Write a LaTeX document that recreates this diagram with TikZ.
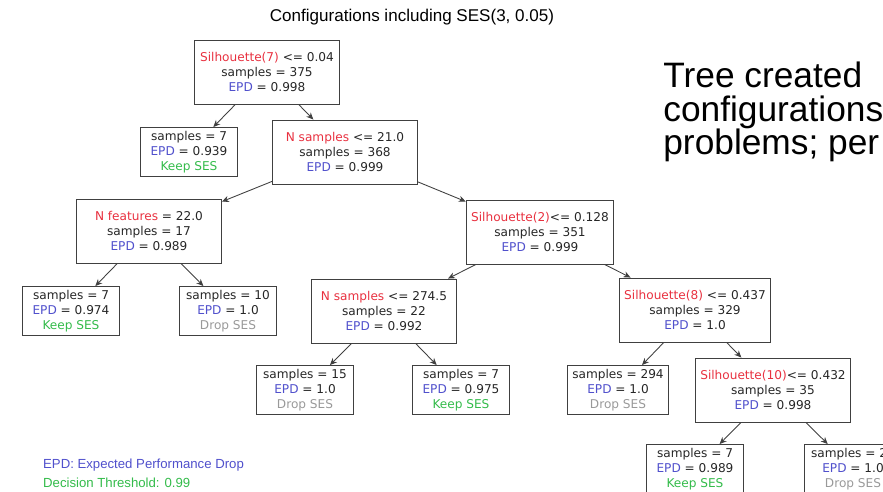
\documentclass[tikz,border=0pt]{standalone}
\usepackage{fontspec}
\setmainfont{Liberation Sans}
\newfontfamily\treefont{DejaVu Sans}
\usetikzlibrary{arrows.meta}
\definecolor{featred}{HTML}{E8303F}
\definecolor{epdblue}{HTML}{5050CC}
\definecolor{keepgreen}{HTML}{33BB4A}
\definecolor{dropgray}{HTML}{999999}
\newcommand{\feat}[1]{\textcolor{featred}{#1}}
\newcommand{\epd}{\textcolor{epdblue}{EPD}}
\newcommand{\keep}{\textcolor{keepgreen}{Keep SES}}
\newcommand{\drop}{\textcolor{dropgray}{Drop SES}}
\tikzset{
	box/.style={draw=black!75,line width=0.5pt,align=center,inner xsep=0.1cm,inner ysep=0pt,
		font=\treefont\fontsize{6.9}{8.4}\selectfont,text=black!85},
	split/.style={box,minimum width=2.9cm,minimum height=1.28cm},
	leaf/.style={box,minimum width=1.94cm,minimum height=0.98cm},
	edge/.style={-{Stealth[length=4pt,width=3.5pt]},draw=black!75,line width=0.5pt}
}
\begin{document}
\begin{tikzpicture}[x=0.02cm,y=-0.02cm]
	\useasboundingbox (0,0) rectangle (883,492);
	\clip (0,0) rectangle (883,492);
	\node[font=\fontsize{9.7}{11}\selectfont] (title) at (412,17) {Configurations including SES(3, 0.05)};
	\node[anchor=base west,align=left,inner xsep=0pt,font=\fontsize{20.1}{19.3}\selectfont] (note) at (663,155) {Tree created\\configurations\\problems; per};
	% the tree
	\node[split] (1) at (267,72) {\feat{Silhouette(7)} <= 0.04\\samples = 375\\\epd{} = 0.998};
	\node[leaf] (2) at (189,152) {samples = 7\\\epd{} = 0.939\\\keep};
	\node[split] (3) at (345,152) {\feat{N samples} <= 21.0\\samples = 368\\\epd{} = 0.999};
	\node[split] (4) at (149,231) {\feat{N features} = 22.0\\samples = 17\\\epd{} = 0.989};
	\node[split] (5) at (540,232) {\feat{Silhouette(2)}<= 0.128\\samples = 351\\\epd{} = 0.999};
	\node[leaf] (6) at (71,311) {samples = 7\\\epd{} = 0.974\\\keep};
	\node[leaf] (7) at (228,311) {samples = 10\\\epd{} = 1.0\\\drop};
	\node[split] (8) at (384,311) {\feat{N samples} <= 274.5\\samples = 22\\\epd{} = 0.992};
	\node[split] (9) at (695,310) {\feat{Silhouette(8)} <= 0.437\\samples = 329\\\epd{} = 1.0};
	\node[leaf] (10) at (305,390) {samples = 15\\\epd{} = 1.0\\\drop};
	\node[leaf] (11) at (461,390) {samples = 7\\\epd{} = 0.975\\\keep};
	\node[leaf] (12) at (618,390) {samples = 294\\\epd{} = 1.0\\\drop};
	\node[split] (13) at (773,390) {\feat{Silhouette(10)}<= 0.432\\samples = 35\\\epd{} = 0.998};
	\node[leaf] (14) at (695,469) {samples = 7\\\epd{} = 0.989\\\keep};
	\node[leaf] (15) at (853,469) {samples = 28\\\epd{} = 1.0\\\drop};
	\draw[edge] (1) -- (2); \draw[edge] (1) -- (3);
	\draw[edge] (3) -- (4); \draw[edge] (3) -- (5);
	\draw[edge] (4) -- (6); \draw[edge] (4) -- (7);
	\draw[edge] (5) -- (8); \draw[edge] (5) -- (9);
	\draw[edge] (8) -- (10); \draw[edge] (8) -- (11);
	\draw[edge] (9) -- (12); \draw[edge] (9) -- (13);
	\draw[edge] (13) -- (14); \draw[edge] (13) -- (15);
	% legend
	\node[anchor=base west,text=epdblue,font=\fontsize{7.5}{9}\selectfont] (key1) at (37,469) {EPD: Expected Performance Drop};
	\node[anchor=base west,text=keepgreen,font=\fontsize{7.5}{9}\selectfont] (key2) at (37,488) {Decision Threshold: 0.99};
\end{tikzpicture}
\end{document}
